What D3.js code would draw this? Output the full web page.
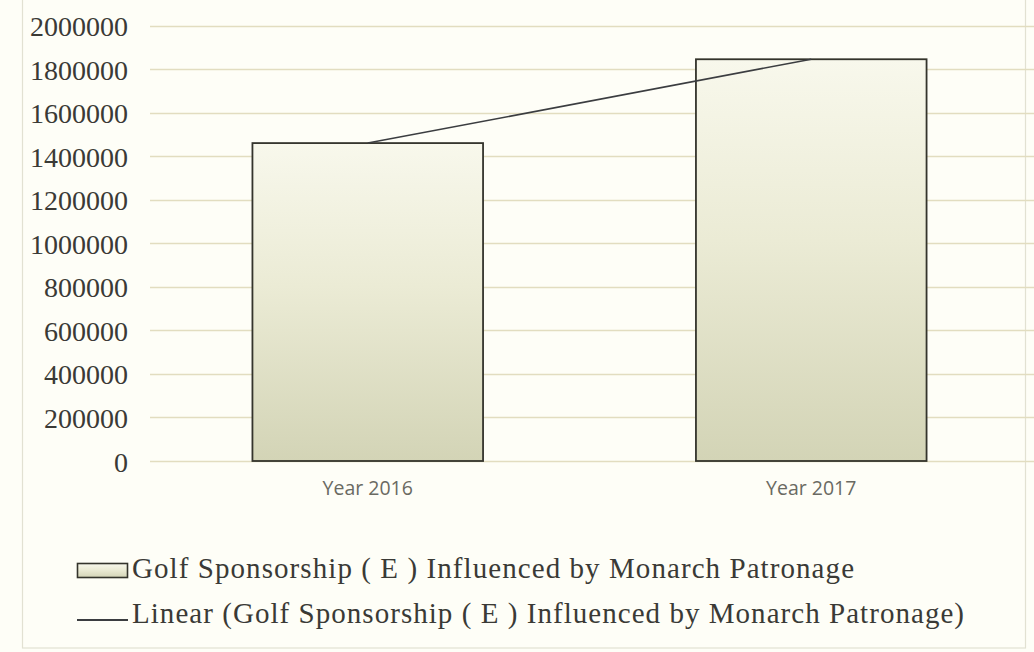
<!DOCTYPE html>
<html>
<head>
<meta charset="utf-8">
<script src="https://cdn.jsdelivr.net/npm/d3@7"></script>
<style>
  html, body { margin: 0; padding: 0; background: #fefef7; }
  svg { display: block; }
</style>
</head>
<body>
<svg id="chart" width="1034" height="652"></svg>
<script>
// Sponsorship totals per year
const categories = ["Year 2016", "Year 2017"];
const sponsorship = [1460000, 1845000];
const yTicks = [0, 200000, 400000, 600000, 800000, 1000000, 1200000, 1400000, 1600000, 1800000, 2000000];
const seriesName = "Golf Sponsorship ( E ) Influenced by Monarch Patronage";
const trendName = "Linear (Golf Sponsorship ( E ) Influenced by Monarch Patronage)";

const svg = d3.select("#chart");
const W = 1034, H = 652;

svg.append("rect").attr("width", W).attr("height", H).attr("fill", "#fefef7");

// outer chart frame
svg.append("rect")
  .attr("x", 22.5).attr("y", -2).attr("width", 1003).attr("height", 650)
  .attr("fill", "none").attr("stroke", "#e2e1d2").attr("stroke-width", 1.2);

const defs = svg.append("defs");
const grad = defs.append("linearGradient")
  .attr("id", "barFill").attr("x1", 0).attr("y1", 0).attr("x2", 0).attr("y2", 1);
grad.append("stop").attr("offset", "0%").attr("stop-color", "#f8f8ec");
grad.append("stop").attr("offset", "45%").attr("stop-color", "#ebebd5");
grad.append("stop").attr("offset", "100%").attr("stop-color", "#d3d4b6");

const plotLeft = 146, plotRight = 1033;
const y = d3.scaleLinear().domain([0, 2000000]).range([461, 25.5]);
const x = d3.scaleBand().domain(categories).range([plotLeft, plotRight])
  .paddingInner(0.48).paddingOuter(0.24);

// gridlines
svg.append("g").selectAll("line").data(yTicks).join("line")
  .attr("x1", 150).attr("x2", 1034)
  .attr("y1", d => Math.round(y(d)) + 0.5).attr("y2", d => Math.round(y(d)) + 0.5)
  .attr("stroke", "#e2ddc0").attr("stroke-width", 1.4);

// y axis labels
const yAxis = d3.axisLeft(y).tickValues(yTicks).tickFormat(d3.format("d")).tickSize(0).tickPadding(0);
const gy = svg.append("g").attr("transform", "translate(128,0)").call(yAxis);
gy.select(".domain").remove();
gy.selectAll("text")
  .attr("font-family", "'Liberation Serif', 'Times New Roman', serif")
  .attr("font-size", 28).attr("fill", "#3a3a36").attr("dy", "0.36em");

// bars
svg.append("g").selectAll("rect").data(categories).join("rect")
  .attr("x", d => x(d))
  .attr("y", (d, i) => y(sponsorship[i]))
  .attr("width", x.bandwidth())
  .attr("height", (d, i) => y(0) - y(sponsorship[i]))
  .attr("fill", "url(#barFill)")
  .attr("stroke", "#34342c").attr("stroke-width", 1.8);

// linear trendline through the two yearly totals
const trend = d3.line()
  .x(d => x(d.c) + x.bandwidth() / 2)
  .y(d => y(d.v));
svg.append("path")
  .datum(categories.map((c, i) => ({ c, v: sponsorship[i] })))
  .attr("d", trend)
  .attr("fill", "none").attr("stroke", "#3b3d40").attr("stroke-width", 1.6);

// x axis labels
const xAxis = d3.axisBottom(x).tickSize(0).tickPadding(0);
const gx = svg.append("g").attr("transform", "translate(0,481)").call(xAxis);
gx.select(".domain").remove();
gx.selectAll("text")
  .attr("font-family", "'Open Sans', 'Liberation Sans', sans-serif")
  .attr("font-size", 19.5).attr("fill", "#6a6a62").attr("dy", "0.71em");

// legend
const lg = svg.append("g");
lg.append("rect").attr("x", 77.5).attr("y", 563.5).attr("width", 50).attr("height", 14)
  .attr("fill", "url(#barFill)").attr("stroke", "#34342c").attr("stroke-width", 1.6);
lg.append("line").attr("x1", 77).attr("x2", 128).attr("y1", 620).attr("y2", 620)
  .attr("stroke", "#3b3d40").attr("stroke-width", 1.8);
lg.selectAll("text").data([[seriesName, 578, 722], [trendName, 623, 832]]).join("text")
  .attr("x", 132).attr("y", d => d[1])
  .attr("font-family", "'Liberation Serif', 'Times New Roman', serif")
  .attr("font-size", 29).attr("fill", "#3a3a36")
  .attr("textLength", d => d[2]).attr("lengthAdjust", "spacing")
  .text(d => d[0]);
</script>
</body>
</html>
